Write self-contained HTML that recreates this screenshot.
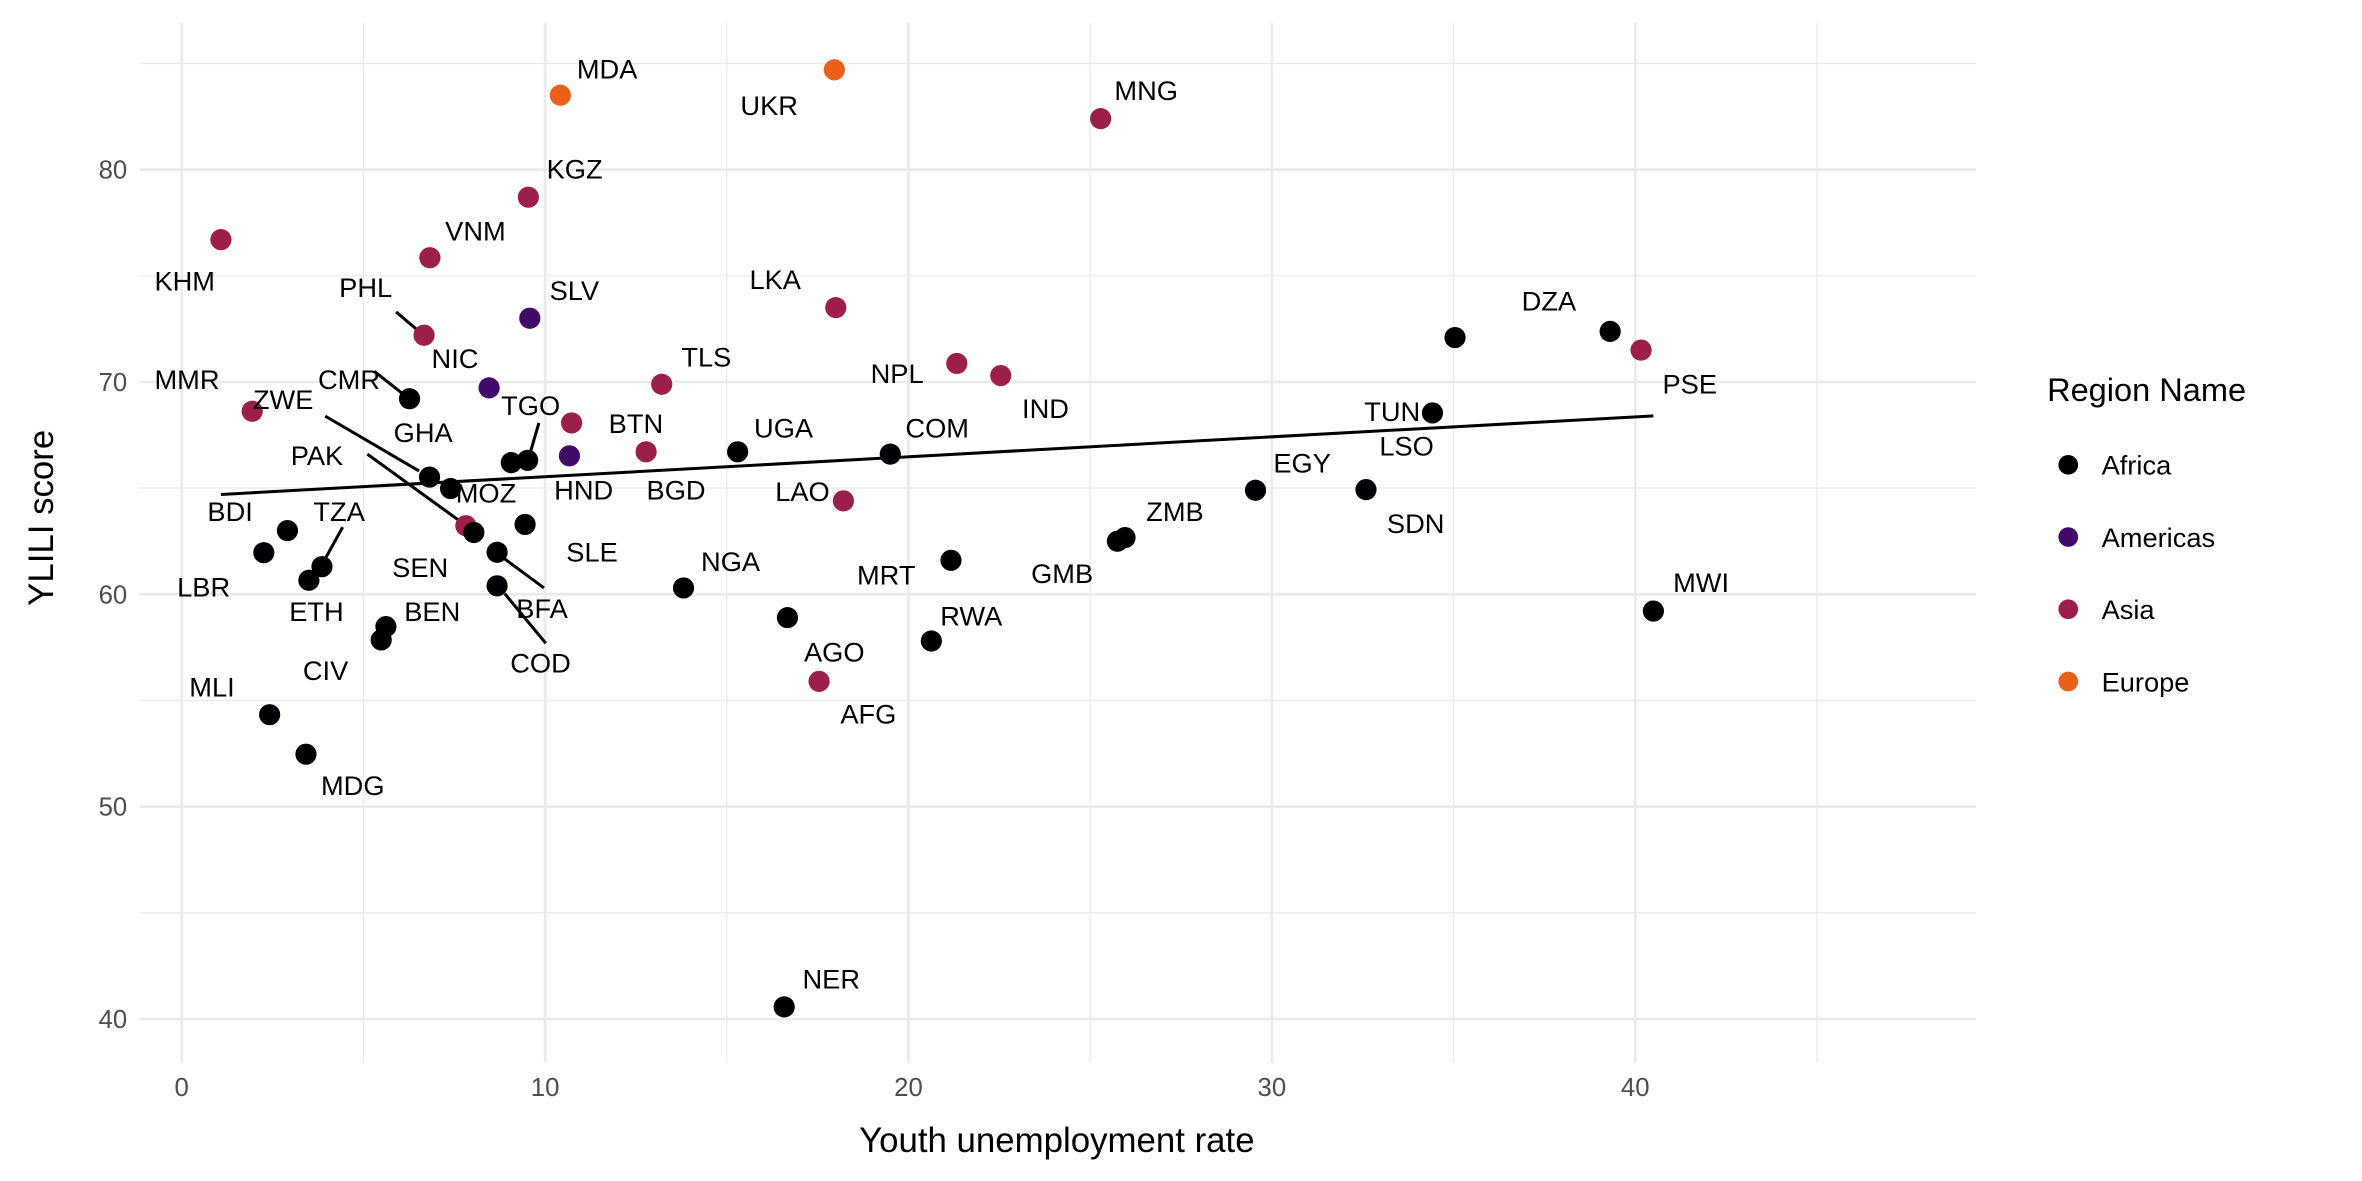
<!DOCTYPE html>
<html><head><meta charset="utf-8"><style>
html,body{margin:0;padding:0;background:#fff;}
svg{display:block;font-family:"Liberation Sans",sans-serif;}
</style></head><body>
<svg id="chart" width="2362" height="1181" viewBox="0 0 1560 780" preserveAspectRatio="none" xmlns="http://www.w3.org/2000/svg">
<g id="grid"></g>
<g id="trend"></g>
<g id="leaders"></g>
<g id="points"></g>
<g id="labels"></g>
<g id="axes"></g>
<text x="698" y="761" font-size="23" text-anchor="middle" fill="#000">Youth unemployment rate</text>
<text x="0" y="0" font-size="23" text-anchor="middle" fill="#000" transform="translate(35,342) rotate(-90)">YLILI score</text>
<g id="legend">
<text x="1352" y="265" font-size="21.5" fill="#000">Region Name</text>
</g>
</svg>
<script>
const codes = ["MDA","UKR","MNG","KGZ","KHM","VNM","SLV","PHL","LKA","DZA","PSE","TUN","LSO","EGY","SDN","MWI","MMR","CMR","NIC","TLS","BTN","HND","BGD","UGA","GHA","MOZ","SLE","TGO","BDI","LBR","TZA","ETH","PAK","ZWE","SEN","BFA","COD","NGA","BEN","CIV","MLI","MDG","NER","AGO","AFG","RWA","MRT","GMB","ZMB","LAO","COM","NPL","IND","LKA2"];
const unemployment = [10.42,17.96,25.29,9.54,1.08,6.83,9.58,6.67,18.0,39.31,40.16,35.04,34.42,29.55,32.59,40.5,1.94,6.27,8.46,13.21,10.73,10.67,12.78,15.30,6.82,7.40,9.45,9.52,2.91,2.26,3.86,3.50,7.82,8.04,8.68,8.68,9.07,13.81,5.62,5.49,2.42,3.42,16.58,16.67,17.54,20.63,21.17,25.75,25.96,18.21,19.5,21.33,22.54];
const ylili = [83.5,84.7,82.4,78.7,76.7,75.85,73.0,72.2,73.5,72.38,71.5,72.09,68.54,64.9,64.93,59.21,68.62,69.21,69.72,69.89,68.07,66.52,66.71,66.71,65.52,64.98,63.29,66.31,63.0,61.96,61.30,60.66,63.23,62.91,61.98,60.40,66.2,60.30,58.48,57.85,54.33,52.47,40.57,58.9,55.9,57.8,61.6,62.5,62.67,64.4,66.6,70.87,70.3];
const regions = ["Europe","Europe","Asia","Asia","Asia","Asia","Americas","Asia","Asia","Africa","Asia","Africa","Africa","Africa","Africa","Africa","Asia","Africa","Americas","Asia","Asia","Americas","Asia","Africa","Africa","Africa","Africa","Africa","Africa","Africa","Africa","Africa","Asia","Africa","Africa","Africa","Africa","Africa","Africa","Africa","Africa","Africa","Africa","Africa","Asia","Africa","Africa","Africa","Africa","Asia","Africa","Asia","Asia"];
const regionNames = ["Africa","Americas","Asia","Europe"];
const regionColors = ["#000004","#420a68","#9b1e4b","#ea5f1a"];
const trendX = [1.08,40.5];
const trendY = [64.7,68.4];
const xTicks = [0,10,20,30,40];
const yTicks = [40,50,60,70,80];
const xTickLabels = ["0","10","20","30","40"];
const yTickLabels = ["40","50","60","70","80"];
const xMinor = [5,15,25,35,45];
const yMinor = [45,55,65,75,85];

// label layout (display coords)
const labelText = ["MDA","UKR","MNG","KGZ","KHM","VNM","SLV","PHL","LKA","DZA","PSE","TUN","LSO","SDN","EGY","ZMB","GMB","MWI","MRT","RWA","AGO","AFG","NER","NGA","LAO","COM","UGA","NPL","IND","TLS","BTN","BGD","HND","TGO","NIC","CMR","MMR","ZWE","GHA","PAK","MOZ","BDI","TZA","LBR","SEN","SLE","ETH","BEN","BFA","COD","CIV","MLI","MDG"];
const labelPos = [[381,52],[489,76],[736,66],[361,118],[102,192],[294,159],[363,198],[224,196],[495,191],[1005,205],[1098,260],[901,278],[911,301],[916,352],[841,312],[757,344],[681,385],[1105,391],[566,386],[621,413],[531,437],[555,478],[530,653],[463,377],[512,331],[598,289],[498,289],[575,253],[675,276],[450,242],[402,286],[427,330],[366,330],[331,274],[285,243],[210,257],[102,257],[167,270],[260,292],[192,307],[301,332],[137,344],[207,344],[117,394],[259,381],[374,371],[191,410],[267,410],[341,408],[337,444],[200,449],[125,460],[212,525]];
const leaderSegs = [[5.9,73.3,6.55,72.35],[5.3,70.5,6.15,69.35],[3.95,68.39,6.53,65.81],[5.11,66.6,7.79,63.28],[9.83,68.07,9.54,66.36],[4.43,63.16,3.97,61.74],[8.83,61.74,9.97,60.30],[8.89,60.03,10.02,57.69]];

const NS = "http://www.w3.org/2000/svg";
const X0 = 120, XS = 24, Y40 = 673, YS = 14.025;
function xs(v){ return X0 + XS*v; }
function ys(v){ return Y40 - YS*(v-40); }
function mk(tag, attrs, parent){
  const e = document.createElementNS(NS, tag);
  for (const k in attrs) e.setAttribute(k, attrs[k]);
  parent.appendChild(e); return e;
}
const PX0 = 92, PX1 = 1305, PY0 = 15, PY1 = 702;
const grid = document.getElementById('grid');
xMinor.forEach(v => { const l = mk('line',{x1:xs(v),x2:xs(v),y1:PY0,y2:PY1,stroke:'#ebebeb','stroke-width':0.9},grid);

 });
yMinor.forEach(v => { const l = mk('line',{x1:PX0,x2:PX1,y1:ys(v),y2:ys(v),stroke:'#ebebeb','stroke-width':0.9},grid);

 });
xTicks.forEach(v => { const l = mk('line',{x1:xs(v),x2:xs(v),y1:PY0,y2:PY1,stroke:'#ebebeb','stroke-width':1.8},grid);

 });
yTicks.forEach(v => { const l = mk('line',{x1:PX0,x2:PX1,y1:ys(v),y2:ys(v),stroke:'#ebebeb','stroke-width':1.8},grid);

 });

const axes = document.getElementById('axes');
xTicks.forEach((v,i) => { const t = mk('text',{x:xs(v),y:724,'font-size':17,'text-anchor':'middle',fill:'#4d4d4d'},axes); t.textContent = xTickLabels[i];

 });
yTicks.forEach((v,i) => { const t = mk('text',{x:84,y:ys(v)+6,'font-size':17,'text-anchor':'end',fill:'#4d4d4d'},axes); t.textContent = yTickLabels[i];

 });

const trend = document.getElementById('trend');
const tl = mk('line',{x1:xs(trendX[0]),y1:ys(trendY[0]),x2:xs(trendX[1]),y2:ys(trendY[1]),stroke:'#000','stroke-width':2},trend);



const leaders = document.getElementById('leaders');
leaderSegs.forEach(s => { const l = mk('line',{x1:xs(s[0]),y1:ys(s[1]),x2:xs(s[2]),y2:ys(s[3]),stroke:'#000','stroke-width':2},leaders);

 });

const pts = document.getElementById('points');
unemployment.forEach((v,i) => {
  const c = mk('circle',{cx:xs(v),cy:ys(ylili[i]),r:7,fill:regionColors[regionNames.indexOf(regions[i])]},pts);
  
  
});

const labs = document.getElementById('labels');
labelText.forEach((s,i) => {
  const t = mk('text',{x:labelPos[i][0],y:labelPos[i][1],'font-size':18,fill:'#000'},labs);
  t.textContent = s;
  
  
});

const leg = document.getElementById('legend');
regionNames.forEach((n,i) => {
  const y = 307 + i*47.7;
  const c = mk('circle',{cx:1366,cy:y,r:6.5,fill:regionColors[i]},leg);
  
  
  const t = mk('text',{x:1388,y:y+6.5,'font-size':18,fill:'#000'},leg);
  t.textContent = n;
  
  
});
</script>
</body></html>
